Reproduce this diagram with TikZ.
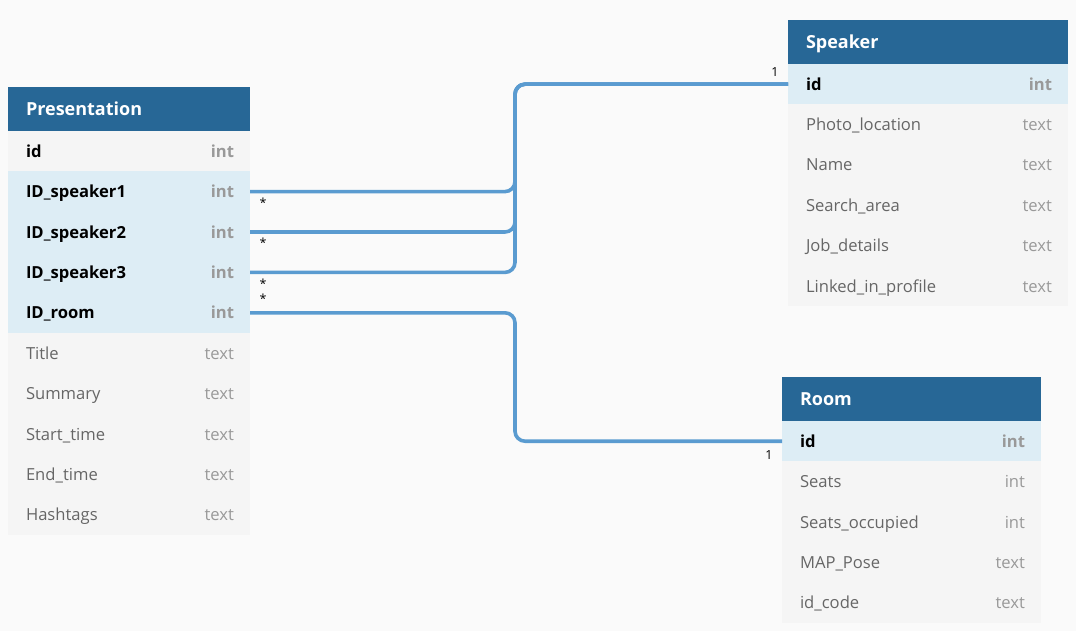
\documentclass[tikz,border=0pt]{standalone}
\usepackage{fontspec}
\setmainfont{Open Sans}
\usetikzlibrary{calc,positioning}
\usepackage{xcolor}

\definecolor{hdrblue}{HTML}{276796}
\definecolor{keyfill}{HTML}{DDEDF5}
\definecolor{rowfill}{HTML}{F5F5F5}
\definecolor{canvas}{HTML}{FAFAFA}
\definecolor{linkblue}{HTML}{5A9BD0}
\definecolor{namegray}{HTML}{666666}
\definecolor{typegray}{HTML}{999999}

\newcommand{\rowtxt}[2]{\hspace{2pt}#1\hfill\textcolor{typegray}{#2}}

\tikzset{
    tblhead/.style={anchor=north west, fill=hdrblue, text=white, inner xsep=18pt, inner ysep=0pt,
        outer sep=0pt, minimum height=44pt, text height=15pt, text depth=2pt, align=left,
        font=\fontsize{18}{22}\selectfont\bfseries},
    keyrow/.style={fill=keyfill, text=black, inner xsep=16pt, inner ysep=0pt, outer sep=0pt,
        minimum height=40.4pt, text height=14pt, text depth=2pt,
        text width=#1, align=left, font=\fontsize{16.6}{19}\selectfont\bfseries},
    plainrow/.style={fill=rowfill, text=namegray, inner xsep=16pt, inner ysep=0pt, outer sep=0pt,
        minimum height=40.4pt, text height=14pt, text depth=2pt,
        text width=#1, align=left, font=\fontsize{16.6}{19}\selectfont},
    link/.style={draw=linkblue, line width=3.6pt, rounded corners=10pt},
    card/.style={inner sep=0pt, font=\fontsize{12.5}{15}\selectfont}
}

\begin{document}
\begin{tikzpicture}[x=1pt, y=-1pt]
    \useasboundingbox[fill=canvas] (0,0) rectangle (1076,631);

    % Presentation table
    \node[tblhead, text width=206pt] (pres) at (8,87) {Presentation};
    \node[plainrow=210pt, below=0pt of pres, font=\fontsize{16.6}{19}\selectfont\bfseries, text=black] (pres-id) {\rowtxt{id}{int}};
    \node[keyrow=210pt, below=0pt of pres-id] (pres-spk1) {\rowtxt{ID\_speaker1}{int}};
    \node[keyrow=210pt, below=0pt of pres-spk1] (pres-spk2) {\rowtxt{ID\_speaker2}{int}};
    \node[keyrow=210pt, below=0pt of pres-spk2] (pres-spk3) {\rowtxt{ID\_speaker3}{int}};
    \node[keyrow=210pt, below=0pt of pres-spk3] (pres-room) {\rowtxt{ID\_room}{int}};
    \node[plainrow=210pt, below=0pt of pres-room] (pres-title) {\rowtxt{Title}{text}};
    \node[plainrow=210pt, below=0pt of pres-title] (pres-sum) {\rowtxt{Summary}{text}};
    \node[plainrow=210pt, below=0pt of pres-sum] (pres-start) {\rowtxt{Start\_time}{text}};
    \node[plainrow=210pt, below=0pt of pres-start] (pres-end) {\rowtxt{End\_time}{text}};
    \node[plainrow=210pt, below=0pt of pres-end] (pres-tags) {\rowtxt{Hashtags}{text}};

    % Speaker table
    \node[tblhead, text width=244pt] (spk) at (788,20) {Speaker};
    \node[keyrow=248pt, below=0pt of spk] (spk-id) {\rowtxt{id}{int}};
    \node[plainrow=248pt, below=0pt of spk-id] (spk-photo) {\rowtxt{Photo\_location}{text}};
    \node[plainrow=248pt, below=0pt of spk-photo] (spk-name) {\rowtxt{Name}{text}};
    \node[plainrow=248pt, below=0pt of spk-name] (spk-area) {\rowtxt{Search\_area}{text}};
    \node[plainrow=248pt, below=0pt of spk-area] (spk-job) {\rowtxt{Job\_details}{text}};
    \node[plainrow=248pt, below=0pt of spk-job] (spk-link) {\rowtxt{Linked\_in\_profile}{text}};

    % Room table
    \node[tblhead, text width=223pt] (room) at (782,377) {Room};
    \node[keyrow=227pt, below=0pt of room] (room-id) {\rowtxt{id}{int}};
    \node[plainrow=227pt, below=0pt of room-id] (room-seats) {\rowtxt{Seats}{int}};
    \node[plainrow=227pt, below=0pt of room-seats] (room-occ) {\rowtxt{Seats\_occupied}{int}};
    \node[plainrow=227pt, below=0pt of room-occ] (room-map) {\rowtxt{MAP\_Pose}{text}};
    \node[plainrow=227pt, below=0pt of room-map] (room-code) {\rowtxt{id\_code}{text}};

    % Relations
    \coordinate (bus) at (515,0);
    \draw[link] (pres-spk1.east) -- (pres-spk1.east -| bus) |- (spk-id.west);
    \draw[link] (pres-spk2.east) -- (pres-spk2.east -| bus) |- (spk-id.west);
    \draw[link] (pres-spk3.east) -- (pres-spk3.east -| bus) |- (spk-id.west);
    \draw[link] (pres-room.east) -- (pres-room.east -| bus) |- (room-id.west);

    % Cardinalities
    \node[card] (c-spk1) at (263,203) {*};
    \node[card] (c-spk2) at (263,243) {*};
    \node[card] (c-spk3) at (263,284) {*};
    \node[card] (c-room) at (263,299) {*};
    \node[card] (c-spk) at (775,72) {1};
    \node[card] (c-rm) at (769,455) {1};
\end{tikzpicture}
\end{document}
